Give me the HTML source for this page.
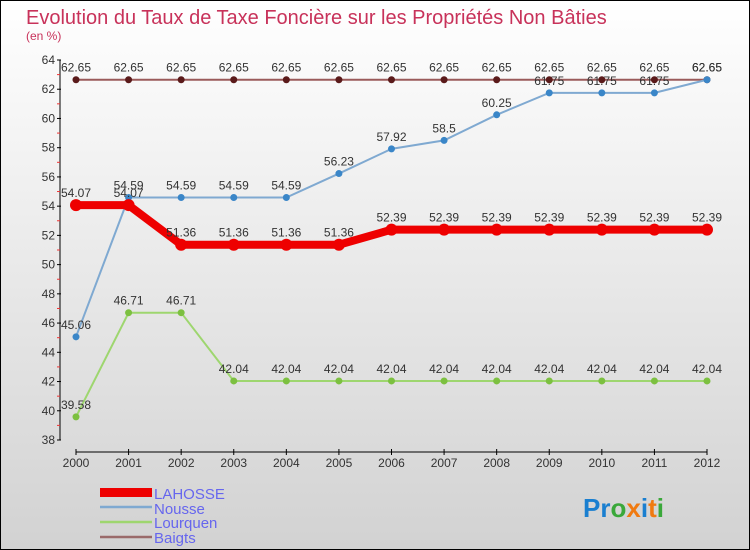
<!DOCTYPE html>
<html><head><meta charset="utf-8"><style>
body{margin:0}
svg{display:block;font-family:"Liberation Sans",sans-serif}
</style></head><body>
<svg id="c" width="750" height="550">
<defs><linearGradient id="bg" x1="0" y1="0" x2="0" y2="1"><stop offset="0" stop-color="#ffffff"/><stop offset="1" stop-color="#d2d2d2"/></linearGradient></defs>
<rect x="0.5" y="0.5" width="749" height="549" fill="url(#bg)" stroke="#000"/>
<text x="26" y="24" font-size="20" fill="#c8325a">Evolution du Taux de Taxe Foncière sur les Propriétés Non Bâties</text>
<text x="26" y="40" font-size="12" fill="#c8325a">(en %)</text>
<g id="axes"></g><g id="series"></g>
<g>
<rect x="100" y="488" width="52" height="9" fill="#e00"/>
<text x="154" y="499" font-size="15" fill="#6666ee">LAHOSSE</text>
<line x1="100" y1="507" x2="152" y2="507" stroke="#7fa9d1" stroke-width="2.5"/>
<text x="154" y="514" font-size="15" fill="#6666ee">Nousse</text>
<line x1="100" y1="522" x2="152" y2="522" stroke="#9ed66f" stroke-width="2.5"/>
<text x="154" y="528" font-size="15" fill="#6666ee">Lourquen</text>
<line x1="100" y1="537" x2="152" y2="537" stroke="#9a6a6a" stroke-width="2.5"/>
<text x="154" y="543" font-size="15" fill="#6666ee">Baigts</text>
</g>
<text x="583" y="517" font-size="26" font-weight="bold"><tspan fill="#1a7fd0">Pr</tspan><tspan fill="#3aa83a">o</tspan><tspan fill="#f07a10">x</tspan><tspan fill="#1a7fd0">i</tspan><tspan fill="#f07a10">t</tspan><tspan fill="#3aa83a">i</tspan></text>
</svg>
<script>
const years=[2000,2001,2002,2003,2004,2005,2006,2007,2008,2009,2010,2011,2012];
const yTicks=[38,40,42,44,46,48,50,52,54,56,58,60,62,64];
const lahosse=[54.07,54.07,51.36,51.36,51.36,51.36,52.39,52.39,52.39,52.39,52.39,52.39,52.39];
const nousse=[45.06,54.59,54.59,54.59,54.59,56.23,57.92,58.5,60.25,61.75,61.75,61.75,62.65];
const lourquen=[39.58,46.71,46.71,42.04,42.04,42.04,42.04,42.04,42.04,42.04,42.04,42.04,42.04];
const baigts=[62.65,62.65,62.65,62.65,62.65,62.65,62.65,62.65,62.65,62.65,62.65,62.65,62.65];
const NS="http://www.w3.org/2000/svg";
const X=i=>76+i*(707-76)/(years.length-1);
const Y=v=>440-(v-38)*(380/26);
function mk(t,a,p){const e=document.createElementNS(NS,t);for(const k in a)e.setAttribute(k,a[k]);p.appendChild(e);return e;}
const ax=document.getElementById('axes');
let e=mk('line',{x1:60,y1:Y(64),x2:60,y2:Y(38),stroke:'#000'},ax);


e=mk('line',{x1:76,y1:452,x2:707,y2:452,stroke:'#000'},ax);


yTicks.forEach(v=>{
 mk('line',{x1:57,y1:Y(v),x2:61,y2:Y(v),stroke:'#000'},ax);
 if(v<64) mk('line',{x1:57,y1:Y(v+1),x2:60,y2:Y(v+1),stroke:'#e33'},ax);
 const t=mk('text',{x:55,y:Y(v)+4,'font-size':12,fill:'#333','text-anchor':'end'},ax);t.textContent=v;
 
 
});
years.forEach((yr,i)=>{
 mk('line',{x1:X(i),y1:449,x2:X(i),y2:455,stroke:'#000'},ax);
 const t=mk('text',{x:X(i),y:467,'font-size':12,fill:'#333','text-anchor':'middle'},ax);t.textContent=yr;
 
 
});
const sg=document.getElementById('series');
function series(name,vals,col,dot,w,r){
 const g=mk('g',{},sg);
 
 
 const p=mk('polyline',{points:vals.map((v,i)=>X(i)+','+Y(v)).join(' '),fill:'none',stroke:col,'stroke-width':w},g);
 
 
 vals.forEach((v,i)=>{
  const c=mk('circle',{cx:X(i),cy:Y(v),r:r,fill:dot},g);
  
  
  const t=mk('text',{x:X(i),y:Y(v)-8,'font-size':12,fill:'#333','text-anchor':'middle'},g);
  t.textContent=v;
  
  
 });
}
series('baigts',baigts,'#9a5a5a','#5a1a1a',2,3.5);
series('lourquen',lourquen,'#9ed66f','#7cc040',2,3.5);
series('nousse',nousse,'#7fa9d1','#3a86c8',2,3.5);
series('lahosse',lahosse,'#ee0000','#ee0000',8,6);
</script>
</body></html>
